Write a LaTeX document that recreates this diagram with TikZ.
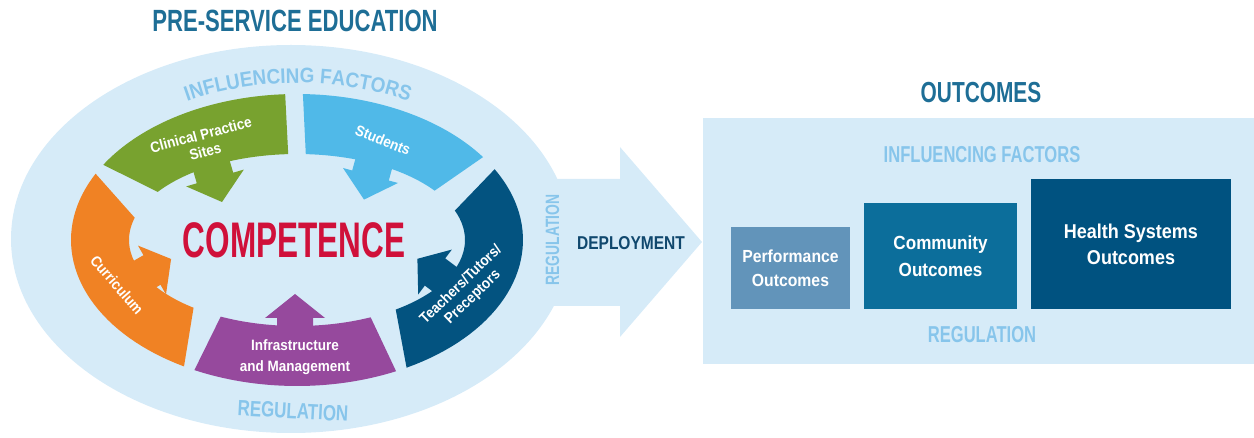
\documentclass[tikz,border=0pt]{standalone}
\usepackage{fontspec}
\setmainfont{Liberation Sans}
\newfontfamily\fontH[FakeStretch=0.72]{Liberation Sans}
\newfontfamily\fontL[FakeStretch=0.9]{Liberation Sans}
\usetikzlibrary{decorations.text}
\definecolor{bgE}{RGB}{214,235,248}
\definecolor{lbt}{RGB}{135,197,235}
\definecolor{ttl}{RGB}{30,110,150}
\definecolor{grn}{RGB}{120,162,47}
\definecolor{sky}{RGB}{80,185,232}
\definecolor{navy}{RGB}{3,83,128}
\definecolor{purp}{RGB}{150,73,157}
\definecolor{orng}{RGB}{240,130,36}
\definecolor{cred}{RGB}{208,16,58}
\definecolor{dep}{RGB}{16,72,110}
\definecolor{perfc}{RGB}{98,148,186}
\definecolor{commc}{RGB}{12,110,155}
\definecolor{hlthc}{RGB}{0,82,128}
\newcommand\fs[2]{\fontsize{#1}{#2}\selectfont}
% ring segment: colour, outer start, outer end, inner start, inner end (angles in degrees)
\newcommand\segm[5]{\fill[#1] plot[domain=#2:#3,samples=40,variable=\t] ({297+226*cos(\t)},{240-146*sin(\t)}) -- plot[domain=#5:#4,samples=40,variable=\t] ({297+168*cos(\t)},{240-86*sin(\t)}) -- cycle;}
\begin{document}
\begin{tikzpicture}[x=1pt,y=-1pt,
  lbl/.style={text=white,font=\fontL\bfseries\fs{15}{17},align=center,inner sep=0pt},
  head/.style={font=\fontH\bfseries,inner sep=0pt},
  outbox/.style={inner sep=0pt,text=white,align=center,font=\fontL\bfseries}]
\useasboundingbox (0,0) rectangle (1254,438);
% background shapes
\fill[bgE] (291,239) ellipse [x radius=280, y radius=194];
\fill[bgE] (540,179) -- (620,179) -- (620,147) -- (702,242) -- (620,337) -- (620,306) -- (540,306) -- cycle;
\fill[bgE] (703,118) rectangle (1254,364);
% ring segments
\segm{grn}{93}{149}{93}{146}
\segm{sky}{34.6}{88.5}{35}{87}
\segm{navy}{-61}{29}{-54}{20}
\segm{purp}{-117}{-64}{-117}{-64}
\segm{orng}{153}{240}{165}{232}
% arrow heads
\fill[grn] (227.6,153.5) -- (233.2,172.7) -- (243.8,169.6) -- (222,202) -- (186.2,186.4) -- (196.8,183.3) -- (191.2,164.1) -- cycle;
\fill[sky] (394.1,161.2) -- (388.8,180.5) -- (398,183) -- (364,199.6) -- (343,168) -- (352.2,170.5) -- (357.5,151.2) -- cycle;
\fill[purp] (313,332) -- (313,318) -- (325,318) -- (295,294) -- (265,318) -- (277,318) -- (277,332) -- cycle;
\fill[orng] (144.8,293.8) -- (160.5,284.8) -- (166,294.4) -- (171.1,259) -- (138,245.6) -- (143.5,255.2) -- (127.8,264.2) -- cycle;
\fill[navy] (439.2,296.4) -- (424.8,285.6) -- (418.2,294.4) -- (417.4,258.8) -- (451.8,249.6) -- (445.2,258.4) -- (459.6,269.2) -- cycle;
% segment labels
\node[lbl,rotate=15] (clin) at (203,143) {Clinical Practice\\Sites};
\node[lbl,rotate=-22] (stud) at (383,140) {Students};
\node[lbl,rotate=44] (teach) at (467,291) {Teachers/Tutors/\\Preceptors};
\node[lbl,rotate=-49] (curr) at (117,285) {Curriculum};
\node[lbl,font=\fontL\bfseries\fs{15}{21}] (infra) at (295,357.5) {Infrastructure\\and Management};
% centre
\node[head,font=\fontH\bfseries\fs{50}{50},text=cred] (comp) at (294,240) {\scalebox{0.875}[1]{COMPETENCE}};
% titles
\node[head,font=\fontH\bfseries\fs{30.7}{31},text=ttl] (title) at (295,21) {PRE-SERVICE EDUCATION};
\node[head,font=\fontH\bfseries\fs{29}{29},text=ttl] (outt) at (981,93) {OUTCOMES};
% ellipse labels
\path[decorate,decoration={text along path,text align=center,
  text={|\fontL\bfseries\fs{21}{21}\color{lbt}|INFLUENCING FACTORS}}]
  plot[domain=124:56,samples=60,variable=\t] ({298+237*cos(\t)},{240-157*sin(\t)});
\node[head,font=\fontH\bfseries\fs{22}{22},text=lbt,rotate=-3] (regb) at (293,411) {\scalebox{1.07}[1]{REGULATION}};
\node[head,font=\fontH\bfseries\fs{19.3}{20},text=lbt,rotate=90] (regv) at (552.5,240) {REGULATION};
\node[head,font=\fontH\bfseries\fs{18.6}{19},text=dep] (depl) at (631,243) {\scalebox{1.16}[1]{DEPLOYMENT}};
% outcomes box
\node[head,font=\fontH\bfseries\fs{23}{23},text=lbt] (inff) at (982,155) {INFLUENCING FACTORS};
\node[head,font=\fontH\bfseries\fs{23}{23},text=lbt] (regr) at (982,335) {REGULATION};
\node[outbox,fill=perfc,minimum width=119pt,minimum height=82pt,font=\fontL\bfseries\fs{17.5}{24.5}] (perf) at (790.5,268) {Performance\\Outcomes};
\node[outbox,fill=commc,minimum width=153pt,minimum height=106pt,font=\fontL\bfseries\fs{19}{27}] (comm) at (940.5,256) {Community\\Outcomes};
\node[outbox,fill=hlthc,minimum width=200pt,minimum height=130pt,font=\fontL\bfseries\fs{20}{26}] (hlth) at (1131,244) {Health Systems\\Outcomes};
\end{tikzpicture}
\end{document}
